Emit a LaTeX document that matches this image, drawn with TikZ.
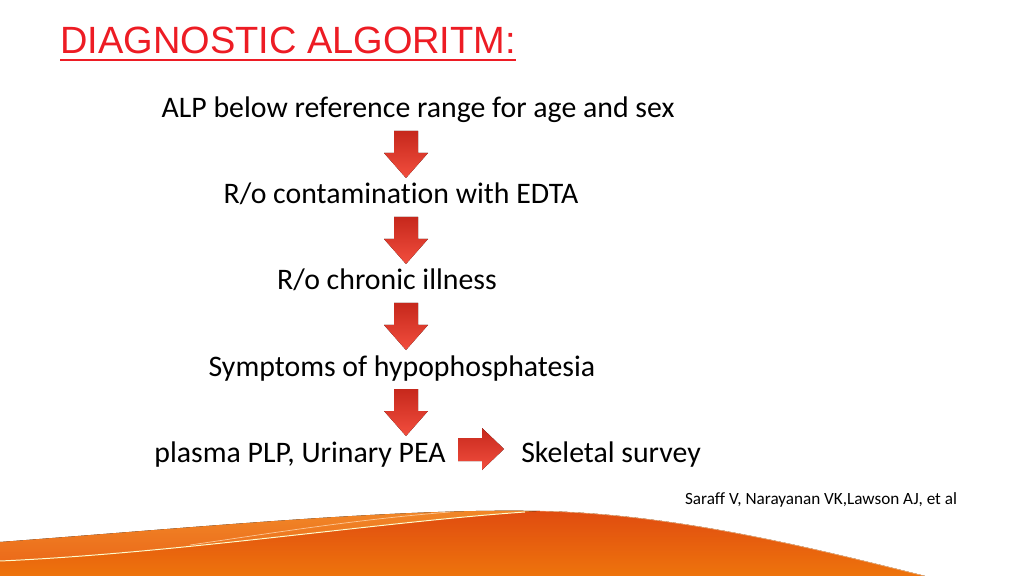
\documentclass[tikz,border=0pt]{standalone}
\usepackage{fontspec}
\setmainfont{Carlito}[Ligatures=NoCommon]
\newfontfamily\titlefont{Liberation Sans}
\usetikzlibrary{calc}

\definecolor{titlered}{RGB}{237,28,36}
\definecolor{arrtop}{RGB}{198,40,28}
\definecolor{arrbot}{RGB}{242,78,62}
\definecolor{wavelight}{RGB}{241,136,40}
\definecolor{wavelow}{RGB}{234,98,22}
\definecolor{wavedark}{RGB}{224,76,16}
\definecolor{wavemid}{RGB}{238,116,12}

\begin{document}
\begin{tikzpicture}[
     x=0.025cm,y=-0.025cm,
     txt/.style={anchor=base,inner sep=0pt,font=\fontsize{21.2}{25}\selectfont},
     blk/.style={top color=arrtop,bottom color=arrbot,draw=none}
   ]
   \path[use as bounding box] (0,0) rectangle (1024,576);
   % Title.
   \node[anchor=base west,inner sep=0pt,text=titlered,font=\titlefont\fontsize{27}{30}\selectfont] (title) at (60,54) {DIAGNOSTIC ALGORITM:};
   \draw[titlered,line width=1.4pt] ($(title.base west)+(0,6)$) -- ($(title.base east)+(0,6)$);
   % Steps.
   \node[txt] (alp) at (418,118) {ALP below reference range for age and sex};
   \node[txt] (edta) at (401,204) {R/o contamination with EDTA};
   \node[txt] (chronic) at (387,290) {R/o chronic illness};
   \node[txt] (symptoms) at (402,376) {Symptoms of hypophosphatesia};
   \node[txt] (plasma) at (300,462) {plasma PLP, Urinary PEA};
   \node[txt] (skeletal) at (611,462) {Skeletal survey};
   \node[anchor=base,inner sep=0pt,font=\fontsize{12.2}{14}\selectfont] (ref) at (821,504) {Saraff V, Narayanan VK,Lawson AJ, et al};
   % Block arrows.
   \fill[blk] (394,131) -- (418,131) -- (418,153) -- (428,153) -- (406,178) -- (384,153) -- (394,153) -- cycle;
   \fill[blk] (394,217) -- (418,217) -- (418,239) -- (428,239) -- (406,264) -- (384,239) -- (394,239) -- cycle;
   \fill[blk] (394,303) -- (418,303) -- (418,325) -- (428,325) -- (406,350) -- (384,325) -- (394,325) -- cycle;
   \fill[blk] (394,389) -- (418,389) -- (418,411) -- (428,411) -- (406,436) -- (384,411) -- (394,411) -- cycle;
   \fill[blk] (458,438) -- (482,438) -- (482,428) -- (504,449) -- (482,470) -- (482,461) -- (458,461) -- cycle;
   % Bottom wave.
   \fill[top color=wavelight,bottom color=wavelow] (0,542) .. controls (200,527) and (400,508) .. (540,511) .. controls (680,514) and (820,550) .. (925,576) -- (0,576) -- cycle;
   \fill[top color=wavedark,bottom color=wavemid] (0,561) .. controls (180,553) and (380,522) .. (525,512) -- (540,511) .. controls (680,514) and (820,550) .. (925,576) -- (0,576) -- cycle;
   \draw[white!80!yellow,line width=0.7pt] (0,561) .. controls (180,553) and (380,522) .. (525,512);
   \draw[white!70!orange,line width=0.5pt,opacity=0.8] (190,545) .. controls (260,535) and (350,520) .. (450,512);
   \draw[white!70!orange,line width=0.5pt,opacity=0.7] (540,511) .. controls (680,514) and (820,550) .. (925,576);
 \end{tikzpicture}
\end{document}
